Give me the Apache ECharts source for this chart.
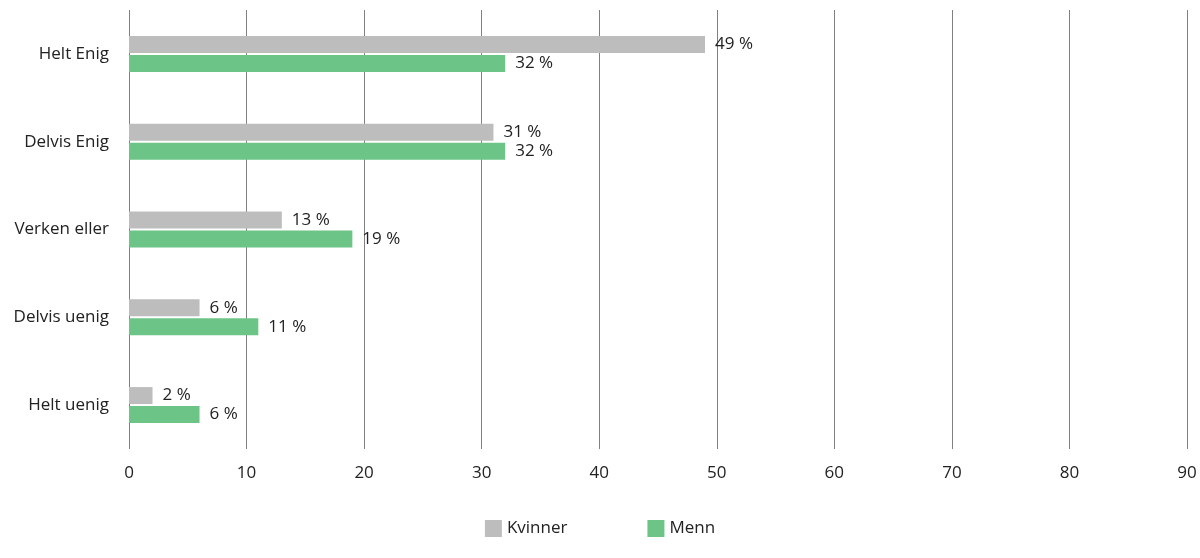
<!DOCTYPE html>
<html>
<head>
<meta charset="UTF-8">
<script src="https://cdn.jsdelivr.net/npm/echarts@6/dist/echarts.min.js"></script>
<style>body{margin:0}#chart{width:1200px;height:558px}</style>
</head>
<body>
<div id="chart"></div>
<script>
var categories = ['Helt Enig', 'Delvis Enig', 'Verken eller', 'Delvis uenig', 'Helt uenig'];
var kvinner = [49, 31, 13, 6, 2];
var menn = [32, 32, 19, 11, 6];
var xTicks = [0, 10, 20, 30, 40, 50, 60, 70, 80, 90];

var font = 'Open Sans';
var chart = echarts.init(document.getElementById('chart'));
var label = {
    show: true, position: 'right', distance: 10,
    formatter: '{c} %', color: '#222', fontSize: 17, fontFamily: font
};
chart.setOption({
    animation: false,
    textStyle: {fontFamily: font},
    grid: {left: 129, right: 13, top: 10, bottom: 109},
    legend: {
        bottom: 16, left: 'center', itemGap: 80, itemWidth: 17, itemHeight: 17,
        icon: 'rect', textStyle: {fontSize: 17, color: '#222', fontFamily: font},
        data: ['Kvinner', 'Menn']
    },
    xAxis: {
        type: 'value', min: xTicks[0], max: xTicks[xTicks.length - 1], interval: 10,
        axisLine: {show: false}, axisTick: {show: false},
        splitLine: {show: true, lineStyle: {color: '#808080', width: 1}},
        axisLabel: {fontSize: 17, color: '#222', margin: 16, fontFamily: font}
    },
    yAxis: {
        type: 'category', data: categories, inverse: true,
        axisLine: {show: false}, axisTick: {show: false},
        axisLabel: {fontSize: 17, color: '#222', margin: 20, fontFamily: font}
    },
    series: [
        {name: 'Kvinner', type: 'bar', data: kvinner, barWidth: 17, barGap: '12%',
         itemStyle: {color: '#bdbdbd'}, label: label},
        {name: 'Menn', type: 'bar', data: menn, barWidth: 17,
         itemStyle: {color: '#6cc486'}, label: label}
    ]
});
</script>
</body>
</html>
